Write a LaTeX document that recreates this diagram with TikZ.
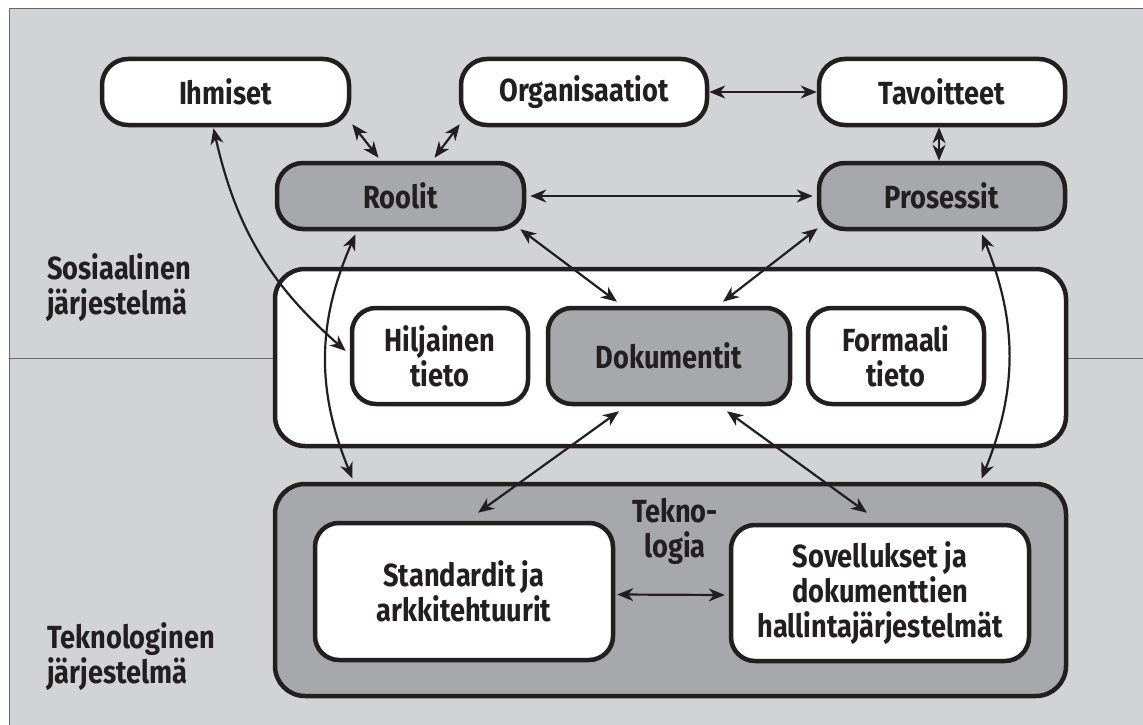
\documentclass[tikz,border=0pt]{standalone}
\usepackage{fontspec}
\setmainfont{Fira Sans}[FakeStretch=0.85]
\usetikzlibrary{arrows.meta,calc}
\definecolor{paper}{RGB}{209,211,212}
\definecolor{boxgray}{RGB}{167,168,171}
\definecolor{ink}{RGB}{35,31,32}
\definecolor{rulegray}{RGB}{105,105,108}
\newcommand{\diagfont}{\bfseries\fontsize{32}{35}\selectfont}
\begin{document}
\begin{tikzpicture}[x=1pt,y=-1pt,
  box/.style={draw=ink, line width=4.5pt, rounded corners=26pt, align=center,
    font=\diagfont, text=ink, inner sep=0pt},
  whitebox/.style={box, fill=white},
  graybox/.style={box, fill=boxgray},
  bigbox/.style={box, rounded corners=30pt},
  tip/.tip={Stealth[length=16pt,width=13pt,inset=5pt]},
  link/.style={draw=ink, line width=2.2pt, tip-tip},
  caption/.style={font=\diagfont, text=ink, align=left, inner sep=0pt}
]
% canvas and frame
\useasboundingbox (0,0) rectangle (1143,725);
\fill[paper] (9,9) rectangle (1143,725);
\draw[rulegray, line width=1pt] (1143,9) -- (9,9) -- (9,725);
% divider between the social and the technological system
\draw[rulegray, line width=1pt] (9,358) -- (1143,358);

% large containers
\node[bigbox, fill=white, minimum width=791pt, minimum height=177pt] (soc) at (670.5,357.5) {};
\node[bigbox, fill=boxgray, minimum width=791pt, minimum height=212pt] (tek) at (670.5,590) {};

% top row
\node[whitebox, minimum width=247pt, minimum height=66pt] (ihm) at (225.5,92) {Ihmiset};
\node[whitebox, minimum width=246pt, minimum height=66pt] (org) at (584,92) {Organisaatiot};
\node[whitebox, minimum width=246pt, minimum height=66pt] (tav) at (942,92) {Tavoitteet};
% second row
\node[graybox, minimum width=247pt, minimum height=66pt] (rol) at (400.5,196) {Roolit};
\node[graybox, minimum width=246pt, minimum height=66pt] (pro) at (942,196) {Prosessit};
% knowledge row
\node[whitebox, rounded corners=24pt, minimum width=176pt, minimum height=96pt] (hil) at (440,356) {Hiljainen\\tieto};
\node[graybox, rounded corners=24pt, minimum width=242pt, minimum height=96pt] (dok) at (669,356) {Dokumentit};
\node[whitebox, rounded corners=24pt, minimum width=176pt, minimum height=96pt] (form) at (896,356) {Formaali\\tieto};
% technology row
\node[whitebox, rounded corners=24pt, minimum width=298pt, minimum height=137pt] (sta) at (464,591.5) {Standardit ja\\arkkitehtuurit};
\node[whitebox, rounded corners=24pt, minimum width=298pt, minimum height=136pt] (sov) at (880,593) {Sovellukset ja\\dokumenttien\\hallintajärjestelmät};
\node[caption, align=center] (tekno) at (675,531) {Tekno-\\logia};

% side captions
\node[caption, anchor=north west] (soclab) at (47,253) {Sosiaalinen\\järjestelmä};
\node[caption, anchor=north west] (teklab) at (47,622) {Teknologinen\\järjestelmä};

% connectors
\draw[link] ($(ihm.south east)+(1,-3)$) -- ($(rol.north)+(-22,-3)$);
\draw[link] ($(org.south west)+(1,-3)$) -- ($(rol.north)+(34,-3)$);
\draw[link] (org.east) -- (tav.east -| tav.west);
\draw[link] ($(tav.south)+(-3,0)$) -- ($(pro.north)+(-3,0)$);
\draw[link] ($(rol.east)+(4,0)$) -- ($(pro.west)+(-4,0)$);
\draw[link] ($(rol.south east)+(-6,-2)$) -- ($(dok.north)+(-52,-4)$);
\draw[link] ($(pro.south west)+(1,-3)$) -- ($(dok.north)+(54,-4)$);
\draw[link] ($(ihm.south)+(-12,1)$) to[bend right=18] ($(hil.west)+(-4,-5)$);
\draw[link] ($(rol.south)+(-45,3)$) to[bend right=23] ($(tek.north)+(-318,-3)$);
\draw[link] ($(pro.south)+(40,3)$) to[bend left=22] ($(tek.north)+(311,-3)$);
\draw[link] ($(dok.south)+(-50,5)$) -- ($(sta.north)+(14,-8)$);
\draw[link] ($(dok.south)+(58,5)$) -- ($(sov.north)+(-13,-10)$);
\draw[link] ($(sta.east)+(2,3)$) -- ($(sov.west)+(-4,2)$);
\end{tikzpicture}
\end{document}
